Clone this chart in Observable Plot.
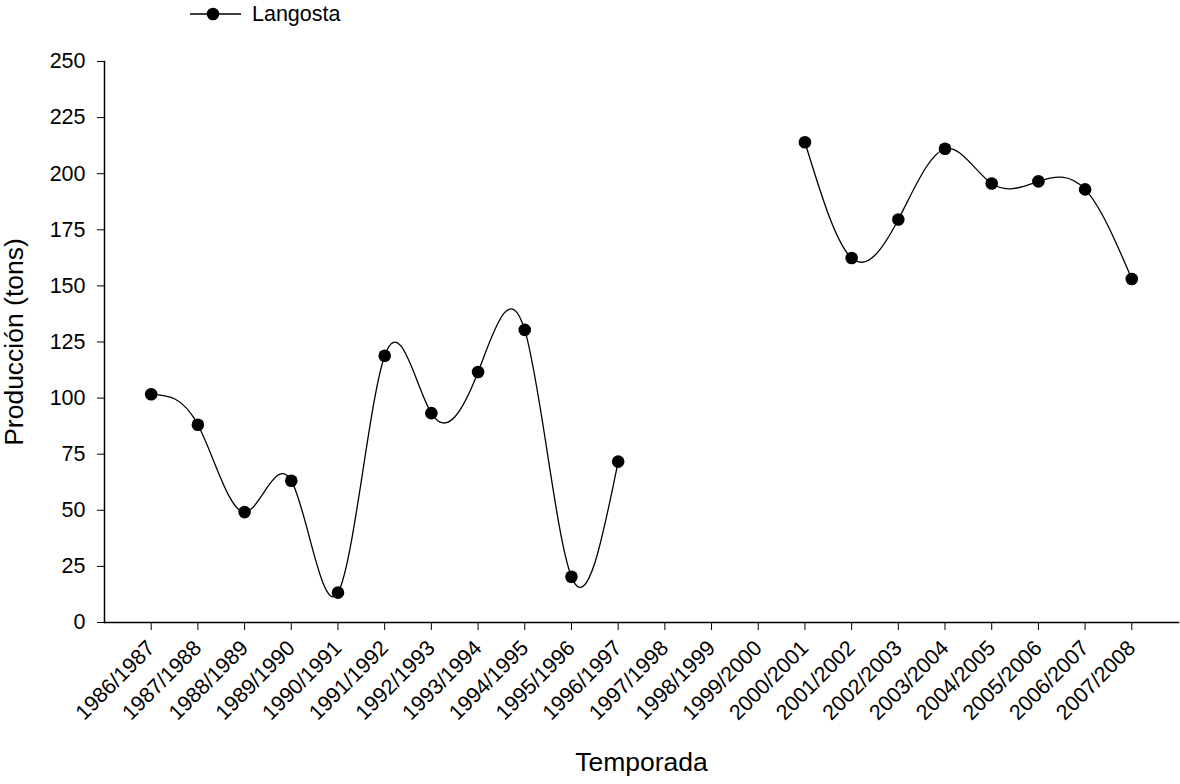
<!DOCTYPE html>
<html><head><meta charset="utf-8">
<script src="https://cdn.jsdelivr.net/npm/d3@7"></script>
<script src="https://cdn.jsdelivr.net/npm/@observablehq/plot@0.6"></script>
<style>
body{margin:0;background:#fff;font-family:"Liberation Sans",Arial,sans-serif;}
#wrap{position:relative;width:1180px;height:784px;}
#legend{position:absolute;left:190px;top:1px;display:flex;align-items:center;height:26px;font-size:21.5px;color:#000;}
#legend svg{margin-right:11px;}
g[aria-label="y-axis label"] text, g[aria-label="x-axis label"] text{font-size:26.5px;}
</style></head><body><div id="wrap"><div id="legend"><svg width="51" height="14"><line x1="0" y1="7" x2="51" y2="7" stroke="#000" stroke-width="1.3"/><circle cx="23" cy="7" r="6.3" fill="#000"/></svg><span>Langosta</span></div></div>
<script>
const temporadas = ["1986/1987","1987/1988","1988/1989","1989/1990","1990/1991","1991/1992","1992/1993","1993/1994","1994/1995","1995/1996","1996/1997","1997/1998","1998/1999","1999/2000","2000/2001","2001/2002","2002/2003","2003/2004","2004/2005","2005/2006","2006/2007","2007/2008"];
const produccion = [101.7, 88.1, 49.2, 63.2, 13.3, 118.9, 93.3, 111.6, 130.4, 20.4, 71.7, null, null, null, 214, 162.4, 179.6, 211.1, 195.6, 196.6, 193, 153.1];
const yTicks = [0,25,50,75,100,125,150,175,200,225,250];
const data = temporadas.map((t,i)=>({temporada:t, produccion:produccion[i]}));
const chart = Plot.plot({
  width:1180, height:784, marginLeft:104, marginRight:2, marginTop:61, marginBottom:162,
  style:{fontFamily:"'Liberation Sans', Arial, sans-serif", fontSize:"21.5px", color:"#000", background:"#fff", overflow:"visible"},
  x:{type:"point", domain:temporadas, padding:1, round:false},
  y:{domain:[0,250]},
  marks:[
    Plot.axisY(yTicks, {tickSize:7, tickPadding:12, label:"Producción (tons)", labelAnchor:"center", labelArrow:"none", labelOffset:100}),
    Plot.axisX({tickSize:8, tickPadding:14, tickRotate:-45, label:"Temporada", labelAnchor:"center", labelArrow:"none", labelOffset:148}),
    Plot.frame({anchor:"left", stroke:"#000", strokeWidth:1.5}),
    Plot.frame({anchor:"bottom", stroke:"#000", strokeWidth:1.5}),
    Plot.line(data, {x:"temporada", y:"produccion", curve:"natural", stroke:"#000", strokeWidth:1.3}),
    Plot.dot(data, {x:"temporada", y:"produccion", r:6.3, fill:"#000", stroke:"none"})
  ]
});
document.getElementById("wrap").appendChild(chart);
</script></body></html>
